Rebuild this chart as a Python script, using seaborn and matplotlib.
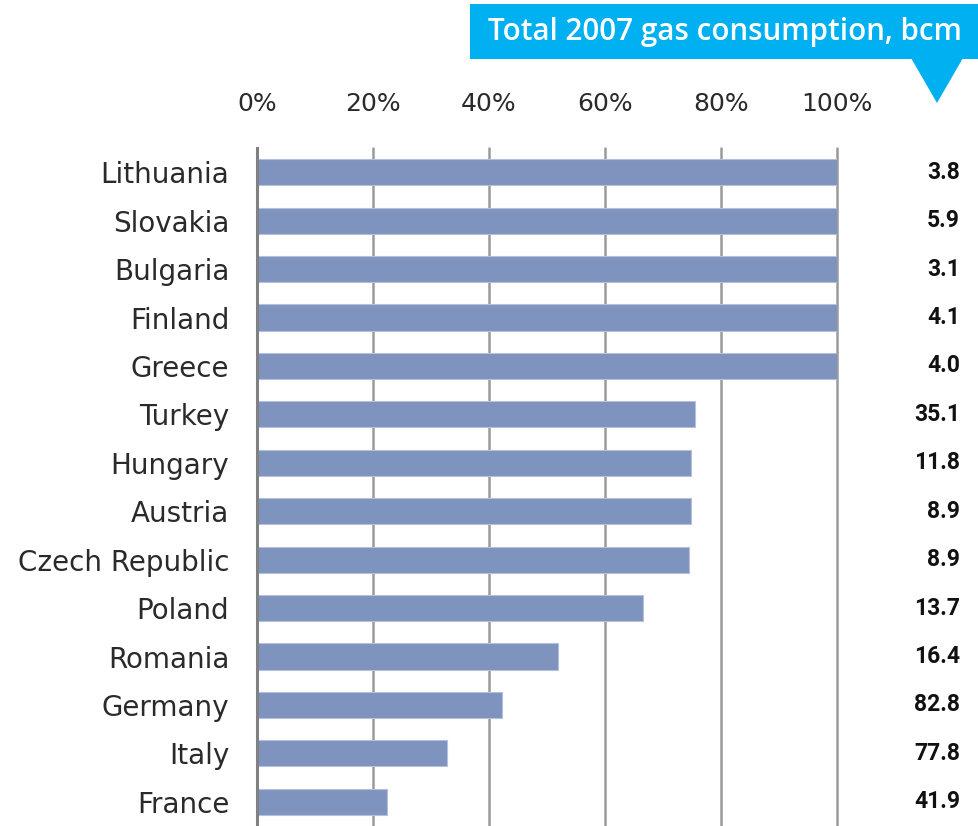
import matplotlib
matplotlib.use("Agg")
import matplotlib.pyplot as plt
from matplotlib.patches import Polygon, Rectangle
import matplotlib.transforms as mtransforms
import seaborn as sns
import pandas as pd

countries = ["Lithuania", "Slovakia", "Bulgaria", "Finland", "Greece", "Turkey",
             "Hungary", "Austria", "Czech Republic", "Poland", "Romania",
             "Germany", "Italy", "France"]
share = [1.00, 1.00, 1.00, 1.00, 1.00, 0.755, 0.748, 0.748, 0.744, 0.666,
         0.519, 0.423, 0.328, 0.225]
consumption = ["3.8", "5.9", "3.1", "4.1", "4.0", "35.1", "11.8", "8.9", "8.9",
               "13.7", "16.4", "82.8", "77.8", "41.9"]
xticks = [0, 0.2, 0.4, 0.6, 0.8, 1.0]
xtick_labels = ["0%", "20%", "40%", "60%", "80%", "100%"]
title = "Total 2007 gas consumption, bcm"

df = pd.DataFrame({"country": countries, "share": share})

sns.set_theme(style="white")
plt.rcParams["font.family"] = ["DejaVu Sans"]

W, H = 979, 826
fig = plt.figure(figsize=(W / 100, H / 100), dpi=100)
ax = fig.add_axes([257 / W, 0, (837 - 257) / W, (826 - 148) / H])

sns.barplot(data=df, x="share", y="country", orient="h", color="#7f93bf",
            saturation=1, width=0.54, edgecolor="#b4c0dc", linewidth=0.8,
            ax=ax, zorder=3)

ax.set_xlim(0, 1.0)
ax.set_ylim(len(countries) - 0.5, -0.5)
ax.set_xticks(xticks)
ax.set_xticklabels(xtick_labels, fontsize=18, color="#2a2a2a")
ax.xaxis.tick_top()
ax.tick_params(axis="x", length=0, pad=23)
ax.tick_params(axis="y", length=0, pad=20, labelsize=20, labelcolor="#2a2a2a")
ax.set_xlabel("")
ax.set_ylabel("")

for x in xticks[1:]:
    ax.axvline(x, color="#9a9a9a", lw=1.8, zorder=1, clip_on=False)
for side in ["top", "right", "bottom"]:
    ax.spines[side].set_visible(False)
ax.spines["left"].set_color("#808080")
ax.spines["left"].set_linewidth(2.2)
ax.spines["left"].set_zorder(4)

# consumption column on the right
trans = mtransforms.blended_transform_factory(fig.transFigure, ax.transData)
for i, v in enumerate(consumption):
    ax.text(960 / W, i, v, transform=trans, ha="right", va="center",
            fontsize=16.5, fontweight="bold", color="#111111",
            family="Roboto")

# callout header
blue = "#00b0f0"
box = Rectangle((470 / W, 1 - 59 / H), (979 - 470) / W, 55 / H,
                transform=fig.transFigure, facecolor=blue, edgecolor="none")
fig.patches.append(box)
tri = Polygon([(911 / W, 1 - 58 / H), (963 / W, 1 - 58 / H), (937 / W, 1 - 103 / H)],
              closed=True, transform=fig.transFigure, facecolor=blue, edgecolor="none")
fig.patches.append(tri)
fig.text(962 / W, 1 - 32 / H, title, ha="right", va="center", color="white",
         fontsize=21.3, fontweight="semibold", family="Open Sans")

fig.savefig("out.png", dpi=100)
